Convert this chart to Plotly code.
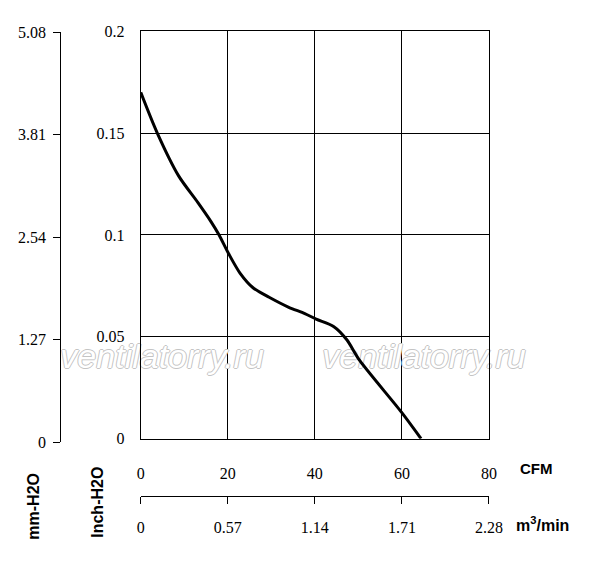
import plotly.graph_objects as go

# fan curve (airflow in CFM, static pressure in inch H2O)
cfm = [0, 3.8, 8.7, 13.1, 16.1, 18.0, 20.2, 22.8, 25.8, 29.5, 33.9, 37.7, 40.3, 44.3, 47.3, 50.3, 59.9, 64.4]
inch_h2o = [0.170, 0.150, 0.129, 0.116, 0.1067, 0.100, 0.0908, 0.0813, 0.0741, 0.0694, 0.0646, 0.0614,
            0.0587, 0.0551, 0.0487, 0.0384, 0.013, 0.0]

# axis ticks
cfm_ticks = [0, 20, 40, 60, 80]
inch_ticks = [0, 0.05, 0.1, 0.15, 0.2]
inch_labels = ["0", "0.05", "0.1", "0.15", "0.2"]
mm_ticks = [0, 1.27, 2.54, 3.81, 5.08]
mm_labels = ["0", "1.27", "2.54", "3.81", "5.08"]
m3_ticks = [0, 0.57, 1.14, 1.71, 2.28]
m3_labels = ["0", "0.57", "1.14", "1.71", "2.28"]

W, H = 597, 566
PX0, PX1, PY0, PY1 = 141, 500, 444, 24   # plot box in pixels
serif = dict(family="Liberation Serif", size=16, color="black")
bold = dict(family="Liberation Sans", size=15, color="black", weight="bold")


def px_to_cfm(px):
    return (px - PX0) / (PX1 - PX0) * 80


def py_to_inch(py):
    return (PY0 - py) / (PY0 - PY1) * 0.2


fig = go.Figure()

# watermark first so the curve sits on top of it
outline = "1px 0 #c4c4c4, -1px 0 #c4c4c4, 0 1px #c4c4c4, 0 -1px #c4c4c4"
fig.add_trace(go.Scatter(
    x=[px_to_cfm(163), px_to_cfm(433)], y=[py_to_inch(362)] * 2,
    mode="text", text=["ventilatorry.ru"] * 2, textposition="middle center",
    textfont=dict(family="Liberation Sans", size=34, color="white", style="italic", shadow=outline),
    cliponaxis=False, hoverinfo="skip", showlegend=False,
))

fig.add_trace(go.Scatter(
    x=cfm, y=inch_h2o, mode="lines",
    line=dict(color="black", width=3, shape="spline", smoothing=0.8),
    hoverinfo="skip", showlegend=False,
))
# invisible helpers so the secondary axes get drawn
fig.add_trace(go.Scatter(x=[0, 2.28], y=[0, 0.2], xaxis="x2", yaxis="y", mode="markers",
                         marker=dict(size=1, opacity=0), hoverinfo="skip", showlegend=False))
fig.add_trace(go.Scatter(x=[0, 1], y=[0, 5.08], xaxis="x3", yaxis="y2", mode="markers",
                         marker=dict(size=1, opacity=0), hoverinfo="skip", showlegend=False))

fig.update_layout(
    autosize=True,
    margin=dict(l=0, r=0, t=0, b=0),
    paper_bgcolor="white", plot_bgcolor="rgba(0,0,0,0)",
    xaxis=dict(
        domain=[PX0 / W, PX1 / W], range=[0, 80],
        tickvals=cfm_ticks, tickfont=serif,
        ticks="outside", ticklen=20, tickcolor="rgba(0,0,0,0)",
        showgrid=True, gridcolor="black", gridwidth=1,
        showline=True, linecolor="black", linewidth=1, mirror=True,
        zeroline=False, fixedrange=True,
    ),
    yaxis=dict(
        domain=[1 - PY0 / H, 1 - PY1 / H], range=[0, 0.2],
        tickvals=inch_ticks, ticktext=inch_labels, tickfont=serif,
        ticks="outside", ticklen=12, tickcolor="rgba(0,0,0,0)",
        showgrid=True, gridcolor="black", gridwidth=1,
        showline=True, linecolor="black", linewidth=1, mirror=True,
        zeroline=False, fixedrange=True,
    ),
    xaxis2=dict(
        overlaying="x", anchor="free", position=1 - 503 / H, side="bottom",
        range=[0, 2.28], tickvals=m3_ticks, ticktext=m3_labels, tickfont=serif,
        ticks="outside", ticklen=7, tickcolor="black", ticklabelstandoff=10,
        showgrid=False, showline=True, linecolor="black", linewidth=1,
        zeroline=False, fixedrange=True,
    ),
    xaxis3=dict(domain=[0, 0.01], visible=False, fixedrange=True),
    yaxis2=dict(
        domain=[1 - 447.7 / H, 1 - 25 / H], anchor="free", position=58 / W, side="left",
        range=[0, 5.08], tickvals=mm_ticks, ticktext=mm_labels, tickfont=serif,
        ticks="outside", ticklen=7, tickcolor="black", ticklabelstandoff=4,
        showgrid=False, showline=True, linecolor="black", linewidth=1,
        zeroline=False, fixedrange=True,
    ),
)

# unit labels
fig.add_annotation(text="CFM", x=530 / W, y=1 - 475 / H, xref="paper", yref="paper",
                   xanchor="left", yanchor="middle", showarrow=False, font=bold)
fig.add_annotation(text="m<sup>3</sup>/min", x=526 / W, y=1 - 532 / H, xref="paper", yref="paper",
                   xanchor="left", yanchor="middle", showarrow=False, font=dict(bold, size=16))
fig.add_annotation(text="mm-H2O", x=30 / W, y=1 - 514 / H, xref="paper", yref="paper",
                   xanchor="center", yanchor="middle",
                   textangle=-90, showarrow=False, font=dict(bold, size=16))
fig.add_annotation(text="Inch-H2O", x=97 / W, y=1 - 510 / H, xref="paper", yref="paper",
                   xanchor="center", yanchor="middle",
                   textangle=-90, showarrow=False, font=dict(bold, size=16))

fig.write_html(
    "out.html",
    config={"displayModeBar": False},
    default_width="100vw", default_height="100vh",
    post_script="document.body.style.margin='0';document.body.style.overflow='hidden';"
                "Plotly.Plots.resize(document.getElementById('{plot_id}'));",
)
